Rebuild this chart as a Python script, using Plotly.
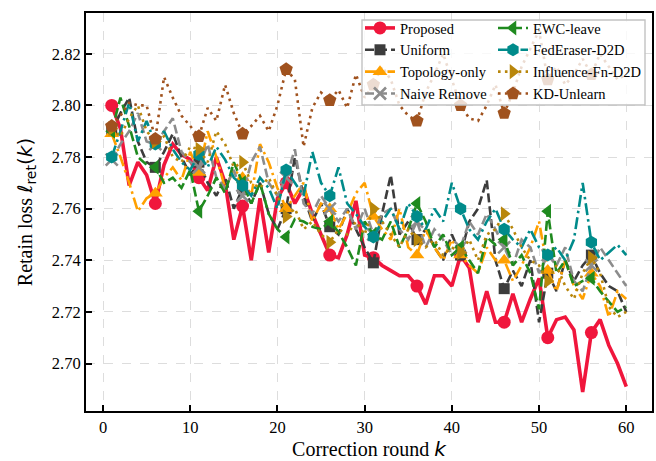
import plotly.graph_objects as go

rounds = list(range(1, 61))

proposed = [2.800, 2.791, 2.769, 2.778, 2.773, 2.762, 2.777, 2.785, 2.781, 2.779,
            2.772, 2.767, 2.780, 2.770, 2.748, 2.761, 2.740, 2.764, 2.743, 2.764,
            2.770, 2.762, 2.768, 2.758, 2.750, 2.742, 2.741, 2.750, 2.763, 2.742,
            2.741, 2.738, 2.736, 2.734, 2.734, 2.730, 2.723, 2.734, 2.734, 2.730,
            2.742, 2.737, 2.716, 2.728, 2.716, 2.716, 2.727, 2.716, 2.725, 2.733,
            2.710, 2.717, 2.718, 2.713, 2.689, 2.712, 2.717, 2.707, 2.700, 2.691]

uniform = [2.790, 2.797, 2.803, 2.786, 2.778, 2.776, 2.782, 2.789, 2.780, 2.773,
           2.778, 2.770, 2.765, 2.772, 2.760, 2.768, 2.762, 2.770, 2.758, 2.752,
           2.760, 2.780, 2.765, 2.755, 2.762, 2.753, 2.750, 2.760, 2.752, 2.745,
           2.739, 2.758, 2.773, 2.750, 2.755, 2.748, 2.752, 2.745, 2.740, 2.750,
           2.742, 2.755, 2.760, 2.771, 2.740, 2.729, 2.736, 2.730, 2.740, 2.716,
           2.735, 2.728, 2.740, 2.732, 2.738, 2.742, 2.735, 2.730, 2.728, 2.720]

topology = [2.789, 2.780, 2.770, 2.759, 2.764, 2.766, 2.772, 2.776, 2.771, 2.782,
            2.774, 2.790, 2.780, 2.768, 2.775, 2.772, 2.765, 2.785, 2.778, 2.768,
            2.760, 2.765, 2.770, 2.755, 2.762, 2.760, 2.752, 2.758, 2.766, 2.770,
            2.757, 2.752, 2.748, 2.760, 2.745, 2.742, 2.752, 2.745, 2.740, 2.748,
            2.742, 2.738, 2.735, 2.745, 2.740, 2.740, 2.732, 2.738, 2.745, 2.755,
            2.736, 2.728, 2.740, 2.730, 2.725, 2.735, 2.730, 2.718, 2.728, 2.725]

naive = [2.779, 2.785, 2.790, 2.797, 2.786, 2.785, 2.790, 2.795, 2.782, 2.778,
         2.776, 2.785, 2.772, 2.768, 2.775, 2.765, 2.778, 2.784, 2.770, 2.765,
         2.772, 2.783, 2.762, 2.758, 2.765, 2.760, 2.755, 2.760, 2.752, 2.760,
         2.750, 2.758, 2.760, 2.752, 2.748, 2.755, 2.745, 2.752, 2.748, 2.742,
         2.745, 2.755, 2.750, 2.758, 2.752, 2.745, 2.738, 2.748, 2.745, 2.735,
         2.742, 2.738, 2.745, 2.732, 2.728, 2.738, 2.745, 2.740, 2.735, 2.730]

ewc = [2.790, 2.803, 2.792, 2.780, 2.777, 2.776, 2.770, 2.772, 2.768, 2.775,
       2.759, 2.765, 2.772, 2.766, 2.778, 2.770, 2.762, 2.770, 2.758, 2.752,
       2.749, 2.756, 2.755, 2.753, 2.752, 2.755, 2.751, 2.745, 2.738, 2.755,
       2.750, 2.748, 2.755, 2.745, 2.752, 2.762, 2.755, 2.745, 2.750, 2.742,
       2.745, 2.740, 2.735, 2.749, 2.746, 2.748, 2.738, 2.742, 2.735, 2.721,
       2.759, 2.735, 2.740, 2.730, 2.732, 2.733, 2.728, 2.724, 2.720, 2.722]

federaser = [2.780, 2.790, 2.801, 2.786, 2.794, 2.785, 2.790, 2.783, 2.778, 2.775,
             2.781, 2.776, 2.784, 2.779, 2.772, 2.769, 2.765, 2.772, 2.768, 2.760,
             2.775, 2.770, 2.765, 2.782, 2.770, 2.765, 2.776, 2.762, 2.758, 2.753,
             2.749, 2.755, 2.760, 2.752, 2.762, 2.757, 2.752, 2.760, 2.755, 2.770,
             2.760, 2.752, 2.748, 2.755, 2.760, 2.752, 2.748, 2.745, 2.752, 2.745,
             2.742, 2.745, 2.740, 2.748, 2.770, 2.747, 2.740, 2.743, 2.746, 2.742]

influence = [2.791, 2.788, 2.795, 2.800, 2.790, 2.786, 2.788, 2.780, 2.778, 2.784,
             2.783, 2.778, 2.790, 2.785, 2.776, 2.778, 2.770, 2.768, 2.772, 2.765,
             2.757, 2.760, 2.752, 2.755, 2.750, 2.747, 2.752, 2.750, 2.755, 2.750,
             2.760, 2.755, 2.750, 2.745, 2.752, 2.748, 2.745, 2.748, 2.742, 2.745,
             2.743, 2.748, 2.740, 2.750, 2.752, 2.758, 2.752, 2.745, 2.740, 2.738,
             2.732, 2.738, 2.730, 2.725, 2.735, 2.741, 2.735, 2.722, 2.718, 2.720]

kd_unlearn = [2.792, 2.796, 2.801, 2.800, 2.800, 2.787, 2.811, 2.803, 2.796, 2.792,
              2.788, 2.799, 2.794, 2.808, 2.797, 2.789, 2.792, 2.796, 2.790, 2.800,
              2.814, 2.810, 2.784, 2.799, 2.805, 2.802, 2.806, 2.799, 2.812, 2.803,
              2.808, 2.815, 2.810, 2.800, 2.796, 2.794, 2.805, 2.812, 2.820, 2.810,
              2.800, 2.795, 2.794, 2.800, 2.808, 2.797, 2.805, 2.815, 2.822, 2.829,
              2.810, 2.815, 2.808, 2.812, 2.818, 2.812, 2.820, 2.815, 2.810, 2.812]

y_ticks = [2.70, 2.72, 2.74, 2.76, 2.78, 2.80, 2.82]
x_ticks = [0, 10, 20, 30, 40, 50, 60]

series = [
    ("Proposed", proposed, "#F0163C", "solid", 3.6, "circle", 13, "legend"),
    ("Uniform", uniform, "#3C3C3C", "9px,4px", 2.6, "square", 11, "legend"),
    ("Topology-only", topology, "#FFA000", "12px,4px,2.5px,4px", 2.6, "triangle-up", 13, "legend"),
    ("Naive Remove", naive, "#8C8C8C", "9px,4px", 2.6, "x-thin", 12, "legend"),
    ("EWC-leave", ewc, "#1F8A1F", "10px,4px", 2.6, "triangle-left", 13, "legend2"),
    ("FedEraser-D2D", federaser, "#008B8B", "12px,4px,2.5px,4px", 2.6, "hexagon", 13, "legend2"),
    ("Influence-Fn-D2D", influence, "#B8860B", "2.6px,4.3px", 2.6, "triangle-right", 13, "legend2"),
    ("KD-Unlearn", kd_unlearn, "#A0521E", "2.6px,4.3px", 2.6, "pentagon", 14, "legend2"),
]

fig = go.Figure()

def marker_dict(color, symbol, size):
    if symbol == "x-thin":
        return dict(symbol=symbol, size=size, color=color, line=dict(color=color, width=2.6))
    return dict(symbol=symbol, size=size, color=color, line=dict(width=0))

for name, vals, color, dash, lw, symbol, msize, leg in series:
    fig.add_trace(go.Scatter(x=rounds, y=vals, mode="lines", showlegend=False,
                             line=dict(color=color, width=lw, dash=dash), hoverinfo="skip"))
    fig.add_trace(go.Scatter(x=rounds[::5], y=vals[::5], mode="markers", showlegend=False,
                             marker=marker_dict(color, symbol, msize), hoverinfo="skip"))

for name, vals, color, dash, lw, symbol, msize, leg in series:
    fig.add_trace(go.Scatter(x=[None], y=[None], mode="lines+markers", name=name, legend=leg,
                             line=dict(color=color, width=lw, dash=dash),
                             marker=marker_dict(color, symbol, msize)))

# plot area pixel geometry
W, H = 656, 461
ml, mr, mt, mb = 86, 4, 13, 50
pw, ph = W - ml - mr, H - mt - mb

def px(xp):
    return (xp - ml) / pw

def py(yp):
    return (H - mb - yp) / ph

# legend frame (semi-transparent white box with a light grey edge)
fig.add_shape(type="rect", xref="paper", yref="paper", layer="above",
              x0=px(362), x1=px(645), y0=py(105), y1=py(20),
              fillcolor="rgba(255,255,255,0.8)", line=dict(color="#C2C2C2", width=1.4))

serif = "Liberation Serif, Times New Roman, serif"
legend_common = dict(bgcolor="rgba(0,0,0,0)", borderwidth=0, font=dict(family=serif, size=14.5, color="black"),
                     xanchor="left", yanchor="top", tracegroupgap=0, itemwidth=30)

fig.update_layout(
    width=W, height=H,
    margin=dict(l=ml, r=mr, t=mt, b=mb),
    paper_bgcolor="white", plot_bgcolor="white",
    font=dict(family=serif, color="black"),
    legend=dict(x=px(360), y=py(12), **legend_common),
    legend2=dict(x=px(493), y=py(12), **legend_common),
)

fig.update_xaxes(
    range=[-1.95, 62.95], tickmode="array", tickvals=x_ticks, ticktext=[str(v) for v in x_ticks],
    ticks="inside", ticklen=6, tickwidth=1.5, tickcolor="black",
    showline=True, linecolor="black", linewidth=2, mirror=True,
    showgrid=True, gridcolor="#DDDDDD", griddash="dash", gridwidth=1,
    zeroline=False, tickfont=dict(family=serif, size=16.5),
    title=dict(text="Correction round <span style='font-family:DejaVu Sans;font-style:italic'>k</span>",
               font=dict(family=serif, size=20), standoff=6),
    automargin=False,
)
fig.update_yaxes(
    range=[2.6816, 2.8358], tickmode="array", tickvals=y_ticks, ticktext=[f"{v:.2f}" for v in y_ticks],
    ticks="inside", ticklen=6, tickwidth=1.5, tickcolor="black",
    showline=True, linecolor="black", linewidth=2, mirror=True,
    showgrid=True, gridcolor="#DDDDDD", griddash="dash", gridwidth=1,
    zeroline=False, tickfont=dict(family=serif, size=16.5),
    title=dict(text="Retain loss <span style='font-family:DejaVu Sans'><i>ℓ</i><sub>ret</sub>(<i>k</i>)</span>",
               font=dict(family=serif, size=20), standoff=14),
    automargin=False,
)

fig.write_html("out.html")
